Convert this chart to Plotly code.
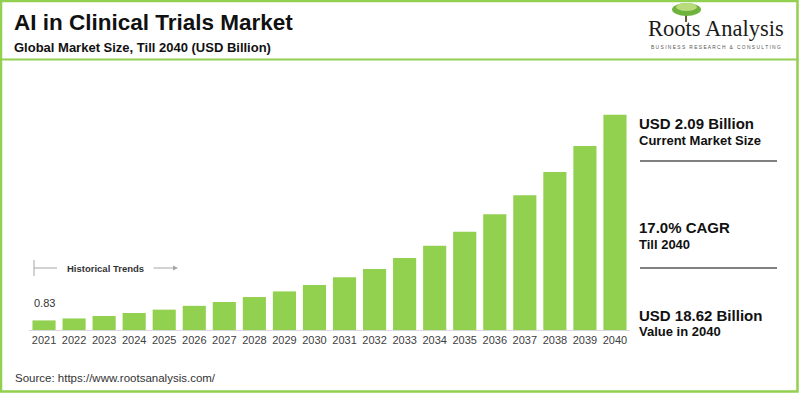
import plotly.graph_objects as go

years = [str(y) for y in range(2021, 2041)]
market_size = [0.83, 1.00, 1.21, 1.47, 1.76, 2.09, 2.42, 2.85, 3.34, 3.89,
               4.56, 5.28, 6.23, 7.29, 8.50, 10.01, 11.65, 13.67, 15.92, 18.62]

title_text = "AI in Clinical Trials Market"
subtitle_text = "Global Market Size, Till 2040 (USD Billion)"
source_text = "Source: https://www.rootsanalysis.com/"
panel_main = ["USD 2.09 Billion", "17.0% CAGR", "USD 18.62 Billion"]
panel_sub = ["Current Market Size", "Till 2040", "Value in 2040"]

W, H = 800, 393
L, R, T, B = 29, 630, 100, 330
GREEN = "#92d050"
FONT = "Liberation Sans, Arial, sans-serif"


def px(x):
    return (x - L) / (R - L)


def py(y):
    return (B - y) / (B - T)


fig = go.Figure()
fig.add_trace(go.Bar(
    x=years, y=market_size, marker=dict(color=GREEN, line=dict(width=0)),
    hoverinfo="x+y", showlegend=False,
))

shapes = []
annotations = []

# frame
shapes.append(dict(type="rect", xref="paper", yref="paper",
                   x0=px(1), x1=px(797.5), y0=py(1), y1=py(391.5),
                   line=dict(color=GREEN, width=2.5), fillcolor="rgba(0,0,0,0)", layer="above"))
# header separator
shapes.append(dict(type="line", xref="paper", yref="paper",
                   x0=px(1), x1=px(797.5), y0=py(59.5), y1=py(59.5),
                   line=dict(color=GREEN, width=2)))

# titles
annotations.append(dict(text="<b>%s</b>" % title_text, xref="paper", yref="paper",
                        x=px(12), y=py(23), xanchor="left", yanchor="middle", showarrow=False,
                        font=dict(family=FONT, size=22.5, color="#111111")))
annotations.append(dict(text="<b>%s</b>" % subtitle_text, xref="paper", yref="paper",
                        x=px(12), y=py(48), xanchor="left", yanchor="middle", showarrow=False,
                        font=dict(family=FONT, size=13, color="#111111")))

# logo
shapes.append(dict(type="line", xref="paper", yref="paper",
                   x0=px(686), x1=px(686), y0=py(10), y1=py(22),
                   line=dict(color="#6b5a3a", width=2)))
shapes.append(dict(type="circle", xref="paper", yref="paper",
                   x0=px(672), x1=px(701), y0=py(16), y1=py(3),
                   line=dict(width=0), fillcolor="#6fb33d"))
shapes.append(dict(type="circle", xref="paper", yref="paper",
                   x0=px(676), x1=px(697), y0=py(11), y1=py(3),
                   line=dict(width=0), fillcolor="#b9db7c"))
annotations.append(dict(text="Roots Analysis", xref="paper", yref="paper",
                        x=px(715.5), y=py(28), xanchor="center", yanchor="middle", showarrow=False,
                        font=dict(family="Liberation Serif, Times New Roman, serif", size=22.5, color="#1a1a1a")))
annotations.append(dict(text="B U S I N E S S &nbsp; R E S E A R C H &nbsp; &amp; &nbsp; C O N S U L T I N G",
                        xref="paper", yref="paper",
                        x=px(715.5), y=py(47), xanchor="center", yanchor="middle", showarrow=False,
                        font=dict(family=FONT, size=4.9, color="#555555")))

# historical trends marker
shapes.append(dict(type="line", xref="paper", yref="paper",
                   x0=px(34), x1=px(34), y0=py(260), y1=py(276),
                   line=dict(color="#a6a6a6", width=1)))
shapes.append(dict(type="line", xref="paper", yref="paper",
                   x0=px(34), x1=px(57), y0=py(268), y1=py(268),
                   line=dict(color="#a6a6a6", width=1)))
annotations.append(dict(text="<b>Historical Trends</b>", xref="paper", yref="paper",
                        x=px(65), y=py(268), xanchor="left", yanchor="middle", showarrow=False,
                        font=dict(family=FONT, size=9.5, color="#333333")))
annotations.append(dict(text="", xref="paper", yref="paper", axref="pixel", ayref="pixel",
                        x=px(178), y=py(268), ax=-26, ay=0,
                        showarrow=True, arrowhead=2, arrowsize=1, arrowwidth=1,
                        arrowcolor="#a6a6a6"))

# first bar label
annotations.append(dict(text="%.2f" % market_size[0], x=0, y=market_size[0],
                        xref="x", yref="y", yanchor="middle", yshift=17, showarrow=False,
                        font=dict(family=FONT, size=11, color="#333333")))

# right panel
main_y = [123, 227, 315]
sub_y = [140, 244, 331]
for m, s, my, sy in zip(panel_main, panel_sub, main_y, sub_y):
    annotations.append(dict(text="<b>%s</b>" % m, xref="paper", yref="paper",
                            x=px(637), y=py(my), xanchor="left", yanchor="middle", showarrow=False,
                            font=dict(family=FONT, size=15, color="#111111")))
    annotations.append(dict(text="<b>%s</b>" % s, xref="paper", yref="paper",
                            x=px(637), y=py(sy), xanchor="left", yanchor="middle", showarrow=False,
                            font=dict(family=FONT, size=13, color="#111111")))
for ly in [161, 268]:
    shapes.append(dict(type="line", xref="paper", yref="paper",
                       x0=px(640), x1=px(777), y0=py(ly), y1=py(ly),
                       line=dict(color="#808080", width=2)))

# source
annotations.append(dict(text=source_text, xref="paper", yref="paper",
                        x=px(13), y=py(378), xanchor="left", yanchor="middle", showarrow=False,
                        font=dict(family=FONT, size=11.5, color="#333333")))

fig.update_layout(
    width=W, height=H,
    margin=dict(l=L, r=W - R, t=T, b=H - B, pad=0),
    paper_bgcolor="white", plot_bgcolor="white",
    bargap=0.23,
    xaxis=dict(type="category", range=[-0.5, len(years) - 0.5], showgrid=False,
               showline=True, linecolor="#d9d9d9", linewidth=1,
               ticks="", tickfont=dict(family=FONT, size=11, color="#404040"), fixedrange=True),
    yaxis=dict(range=[0, (B - T) / 11.56], visible=False, showgrid=False, zeroline=False, fixedrange=True),
    shapes=shapes, annotations=annotations,
    font=dict(family=FONT),
)

fig.write_html("out.html", config={"displayModeBar": False},
               post_script="document.body.style.margin='0';document.body.style.overflow='hidden';")
